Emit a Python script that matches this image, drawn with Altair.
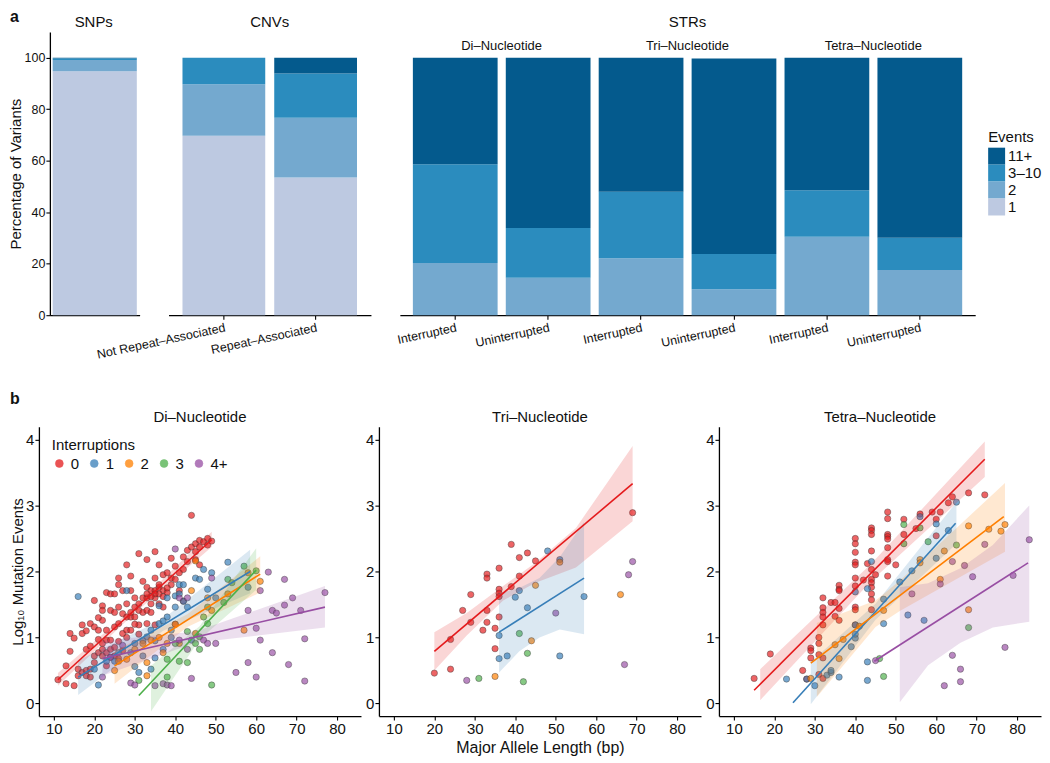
import altair as alt
import pandas as pd

FONT = "Liberation Sans"

# ---------------- Panel a: stacked bars ----------------
BAR_KEYS = ["SNP|", "CNV|Not Repeat–Associated", "CNV|Repeat–Associated",
            "Di|Interrupted", "Di|Uninterrupted", "Tri|Interrupted",
            "Tri|Uninterrupted", "Tetra|Interrupted", "Tetra|Uninterrupted"]
BAR_PANEL = ["SNPs", "CNVs", "CNVs", "STRs", "STRs", "STRs", "STRs", "STRs", "STRs"]
PCT_1 = [94.8, 69.7, 53.5, 0, 0, 0, 0, 0, 0]
PCT_2 = [4.3, 20.0, 23.2, 20.3, 14.5, 22.1, 10.1, 30.5, 17.6]
PCT_3_10 = [0.7, 10.3, 17.2, 38.3, 19.4, 25.9, 13.7, 18.0, 12.5]
PCT_11 = [0.2, 0.0, 6.1, 41.4, 66.1, 52.0, 75.9, 51.5, 69.9]
EVENTS = ["1", "2", "3–10", "11+"]
EV_LEGEND = ["11+", "3–10", "2", "1"]
EV_COLORS = ["#045a8d", "#2b8cbe", "#74a9cf", "#bdc9e1"]
STR_SUB = ["Di–Nucleotide", "Tri–Nucleotide", "Tetra–Nucleotide"]
STR_SUB_KEY = ["Di|Interrupted", "Tri|Interrupted", "Tetra|Interrupted"]

# ---------------- Panel b: scatter ----------------
GROUPS = ["0", "1", "2", "3", "4+"]
G_COLORS = ["#E41A1C", "#377EB8", "#FF7F00", "#4DAF4A", "#984EA3"]

DI0_X = [11,13,13,14,14,15,15,16,16,17,17,17,18,18,18,19,19,19,19,20,20,20,20,21,21,21,22,22,22,22,22,22,
         23,23,23,23,23,24,24,24,24,25,25,25,25,26,26,26,26,26,27,27,27,28,28,28,28,29,29,29,29,30,30,30,
         31,31,31,31,32,32,32,33,33,33,33,33,34,34,34,35,35,35,35,35,36,36,36,36,37,37,37,38,38,39,39,39,
         40,40,41,41,42,42,43,43,44,44,45,45,46,46,47,48,48,49,45,46,36,37,38,35,34,33,24,25,26,27,28,29,
         30,31,18,21,40,42]
DI0_Y = [0.36,0.57,0.30,0.79,1.06,0.99,0.27,0.42,0.52,1.19,1.06,0.47,0.82,0.50,0.42,1.21,0.87,0.40,0.52,
         1.56,1.16,0.72,0.62,0.97,1.11,0.77,1.48,1.41,1.26,0.91,0.82,0.72,1.68,1.11,0.96,0.77,0.57,1.66,
         1.41,0.96,0.82,1.66,1.38,1.16,0.72,1.90,1.80,1.46,1.21,0.94,1.71,1.36,1.06,2.10,1.51,1.31,1.11,
         1.93,1.71,1.31,1.11,1.60,1.46,1.31,2.27,1.51,1.41,1.19,1.85,1.60,1.38,2.18,1.76,1.60,1.41,1.21,
         1.71,1.51,1.38,2.30,1.90,1.71,1.60,1.19,2.10,1.76,1.51,1.80,1.95,1.71,1.46,1.98,1.68,2.20,1.90,
         1.80,2.08,1.88,1.98,1.71,2.22,2.03,2.32,2.15,2.85,2.37,2.42,2.30,2.47,2.37,2.45,2.50,2.40,2.46,
         2.18,2.10,1.66,1.62,1.75,1.66,1.62,1.66,0.70,0.85,0.68,0.80,1.00,1.38,1.20,1.05,1.10,1.30,1.20,1.55]
DI1_X = [16,21,20,23,25,26,28,29,30,30,31,32,33,34,35,36,36,37,38,38,39,40,40,41,41,42,43,44,45,46,47,48,
         49,50,53,58,34,39,37,42,35,32]
DI1_Y = [1.62,0.28,0.52,0.64,0.64,0.77,1.71,0.77,0.91,0.56,0.47,0.72,1.01,1.11,0.69,1.21,1.48,0.82,1.60,
         1.31,1.11,1.63,1.46,1.80,1.66,1.80,1.46,0.96,1.90,1.88,2.03,1.73,1.98,1.60,2.14,1.76,0.52,1.00,
         1.25,1.55,0.95,0.95]
DI2_X = [25,26,28,30,32,33,33,34,37,38,41,44,45,48,49,53,57,58,61,45,36,40]
DI2_Y = [0.50,0.64,0.67,0.82,0.91,0.62,0.42,0.96,0.77,0.91,0.91,1.71,2.16,1.60,1.41,1.66,1.11,1.98,1.85,
         1.06,1.00,1.20]
DI3_X = [31,38,38,40,41,43,43,45,46,47,48,49,52,53,54,57,60,48,46]
DI3_Y = [0.35,0.40,0.67,0.91,0.64,0.62,1.09,0.91,1.01,1.31,1.46,0.28,1.53,1.88,1.83,2.08,2.01,1.21,0.82]
DI4_X = [22,29,30,35,37,38,39,40,41,43,44,47,48,49,50,55,58,58,60,60,61,63,64,64,65,61,67,67,68,69,71,
         72,72,77,43,41,24,27]
DI4_Y = [0.40,0.31,0.28,0.27,0.30,0.28,0.27,2.34,1.60,1.60,0.38,0.96,0.91,1.90,0.91,0.47,0.62,1.41,0.40,
         1.14,1.71,1.99,0.77,1.41,1.37,0.96,1.88,1.49,0.59,1.60,1.41,0.98,0.34,1.68,0.82,0.96,0.70,0.88]

TRI0_X = [20,24,24,27,29,29,32,33,33,33,33,35,35,36,36,36,36,36,39,39,41,41,43,45,69]
TRI0_Y = [0.46,0.52,0.97,1.41,1.65,1.23,1.11,1.96,1.90,1.41,1.23,1.14,0.83,2.05,1.73,1.67,1.62,1.31,
          2.41,1.77,2.21,1.93,2.28,2.16,2.89]
TRI1_X = [36,36,38,40,41,43,48,51,51,57]
TRI1_Y = [1.03,0.68,0.72,1.61,1.71,1.45,2.31,2.18,0.72,1.62]
TRI2_X = [35,44,45,51,66]
TRI2_Y = [0.41,0.95,1.79,2.14,1.65]
TRI3_X = [31,41,42,43]
TRI3_Y = [0.38,1.06,0.33,0.76]
TRI4_X = [28,50,67,68,69]
TRI4_Y = [0.35,1.37,0.59,1.95,2.15]

TET0_X = [15,19,27,28,29,29,29,31,31,31,31,32,32,32,32,32,32,32,34,35,35,36,36,36,36,36,40,40,40,40,40,
          40,40,40,40,40,42,43,44,44,44,44,44,44,44,44,44,44,44,45,48,48,48,48,48,48,48,48,48,50,52,52,
          55,56,59,60,60,61,63,64,68,72]
TET0_Y = [0.38,0.75,0.50,0.37,0.84,0.80,0.69,1.00,0.91,0.74,0.44,1.60,1.45,1.38,1.31,1.19,0.69,0.38,1.53,
          1.53,1.32,1.79,1.73,1.71,1.44,1.26,2.50,2.42,2.29,2.14,2.10,1.90,1.78,1.46,1.42,1.19,1.87,2.12,
          2.66,2.62,2.56,2.31,2.03,1.88,1.83,1.76,1.66,1.57,1.42,1.95,2.90,2.80,2.56,2.53,2.49,2.36,2.18,
          2.15,1.93,2.10,2.79,2.56,2.65,2.87,2.90,2.79,2.54,2.90,3.04,3.13,3.19,3.16]
TET1_X = [23,28,30,33,34,34,36,39,40,40,40,40,43,43,43,44,47,47,51,53,54,56,57,60,60,63,65]
TET1_Y = [0.37,0.37,0.27,0.43,0.47,0.50,0.40,0.86,0.99,1.05,1.19,1.69,1.74,0.63,0.35,2.15,1.58,1.21,1.84,
          1.34,2.01,2.83,1.26,2.72,2.20,2.62,3.05]
TET2_X = [29,35,36,37,41,47,56,56,61,62,68,68,73,76,77]
TET2_Y = [0.38,0.89,0.68,0.97,1.17,1.41,2.18,2.13,1.88,2.31,2.69,1.42,2.64,2.61,2.71]
TET3_X = [46,47,52,52,56,58,65,68]
TET3_Y = [0.68,0.41,2.71,2.42,2.66,2.45,2.40,1.15]
TET4_X = [45,54,61,62,64,64,66,66,67,69,72,77,79,83]
TET4_Y = [0.65,1.66,1.81,0.27,2.15,0.73,0.52,0.33,2.09,1.92,2.41,0.85,1.94,2.48]

# fitted lines (end points)
DI_LINE_G = ["0", "0", "1", "1", "2", "2", "3", "3", "4+", "4+"]
DI_LINE_X = [11, 49, 16, 58.5, 25, 61, 31, 60, 22, 77]
DI_LINE_Y = [0.36, 2.48, 0.40, 2.00, 0.57, 1.96, 0.12, 2.02, 0.68, 1.46]
TRI_LINE_G = ["0", "0", "1", "1"]
TRI_LINE_X = [20, 69, 36, 57]
TRI_LINE_Y = [0.79, 3.33, 1.08, 1.90]
TET_LINE_G = ["0", "0", "1", "1", "2", "2", "4+", "4+"]
TET_LINE_X = [15, 72, 24.6, 64.8, 29, 76.7, 44.7, 82.7]
TET_LINE_Y = [0.20, 3.70, 0.01, 2.73, 0.61, 2.83, 0.64, 2.13]

# confidence bands (x, lower, upper)
DI_BAND_G = ["0", "0", "0", "1", "1", "1", "2", "2", "2", "3", "3", "3", "4+", "4+", "4+"]
DI_BAND_X = [11, 30, 49, 16, 37, 58.5, 25, 43, 61, 34, 46, 60, 22, 45, 77]
DI_BAND_LO = [0.27, 1.37, 2.37, 0.13, 1.10, 1.67, 0.30, 1.16, 1.68, -0.12, 0.97, 1.72, 0.42, 0.92, 1.15]
DI_BAND_HI = [0.46, 1.47, 2.60, 0.65, 1.28, 2.33, 0.80, 1.35, 2.23, 0.57, 1.17, 2.35, 0.95, 1.09, 1.78]
TRI_BAND_G = ["0"] * 6 + ["1"] * 5
TRI_BAND_X = [20, 28, 37, 45, 55, 69, 36, 41, 46, 51, 57]
TRI_BAND_LO = [0.50, 1.03, 1.56, 1.83, 2.06, 2.76, 0.47, 0.79, 1.00, 1.12, 1.05]
TRI_BAND_HI = [1.08, 1.37, 1.78, 2.13, 2.66, 3.90, 1.67, 1.75, 1.90, 2.22, 2.75]
TET_BAND_G = ["0"] * 3 + ["1"] * 3 + ["2"] * 4 + ["4+"] * 5
TET_BAND_X = [16.5, 44, 72, 29, 45, 65, 30.5, 45, 51, 77, 51, 58, 66, 74, 83]
TET_BAND_LO = [0.05, 1.86, 3.43, -0.01, 1.27, 2.42, 0.10, 1.16, 1.40, 2.30, 0.02, 0.58, 0.92, 1.15, 1.24]
TET_BAND_HI = [0.52, 2.12, 3.97, 0.63, 1.51, 3.05, 1.22, 1.56, 1.86, 3.34, 1.76, 1.82, 2.05, 2.40, 3.00]

# ================= build panel a =================
rows = []
for i, key in enumerate(BAR_KEYS):
    for j, (ev, vals) in enumerate(zip(EVENTS, [PCT_1, PCT_2, PCT_3_10, PCT_11])):
        rows.append({"key": key, "panel": BAR_PANEL[i], "event": ev, "ord": j, "pct": vals[i]})
bar_df = pd.DataFrame(rows)

Y_DOM_A = [0, 110]
H_A = 284
W_SNP = 101
Y_OFF = -11


def label_text(txt, x, y, size=15, weight="normal", align="center", baseline="middle"):
    return alt.Chart(pd.DataFrame({"t": [txt]})).mark_text(
        align=align, baseline=baseline, fontSize=size, fontWeight=weight, color="#111").encode(
        x=alt.value(x), y=alt.value(y), text="t:N")


def bar_panel(panel, width, scale, show_y, show_ticks, legend):
    keys = [k for k, p in zip(BAR_KEYS, BAR_PANEL) if p == panel]
    d = bar_df[bar_df.panel == panel]
    if show_y:
        yax = alt.Axis(values=[0, 20, 40, 60, 80, 100], title="Percentage of Variants",
                       titleFontSize=15, titlePadding=1, labelFontSize=12.5, labelPadding=1,
                       offset=Y_OFF)
    else:
        yax = None
    xax = alt.Axis(title=None, labelExpr="split(datum.value, '|')[1]", labels=show_ticks,
                   ticks=show_ticks, labelAngle=-12, labelAlign="right", labelBaseline="top",
                   labelFontSize=12.5, labelPadding=2)
    bars = alt.Chart(d).mark_bar().encode(
        x=alt.X("key:N", sort=keys, scale=scale, axis=xax),
        y=alt.Y("pct:Q", stack="zero", scale=alt.Scale(domain=Y_DOM_A, nice=False), axis=yax),
        color=alt.Color("event:N", scale=alt.Scale(domain=EV_LEGEND, range=EV_COLORS), legend=legend),
        order=alt.Order("ord:Q", sort="ascending"),
    )
    return bars, keys


snp_bars, _ = bar_panel("SNPs", W_SNP,
                        alt.Scale(range=[-Y_OFF, W_SNP], paddingInner=0.1, paddingOuter=0.03),
                        True, False, None)
snp = alt.layer(snp_bars,
                label_text("a", -29, -23, size=16, weight="bold", align="left", baseline="top"),
                label_text("SNPs", 55, -10)).properties(width=W_SNP, height=H_A)

cnv_bars, _ = bar_panel("CNVs", 203, alt.Scale(paddingInner=0.098, paddingOuter=0.152), False, True, None)
cnv = alt.layer(cnv_bars, label_text("CNVs", 101.5, -10)).properties(width=203, height=H_A)

ev_legend = alt.Legend(title="Events", orient="none", legendX=590, legendY=98, symbolType="square",
                       symbolSize=289, symbolStrokeWidth=0, rowPadding=0, labelFontSize=15,
                       titleFontSize=15, titleFontWeight="normal", titlePadding=3, labelOffset=3,
                       symbolOpacity=1)
str_bars, str_keys = bar_panel("STRs", 577, alt.Scale(paddingInner=0.088, paddingOuter=0.14),
                               False, True, ev_legend)
sub_df = pd.DataFrame({"key": STR_SUB_KEY, "t": STR_SUB, "y": [104.6] * 3})
str_sub = alt.Chart(sub_df).mark_text(fontSize=13, baseline="middle", dx=4, color="#111").encode(
    x=alt.X("key:N", sort=str_keys, bandPosition=1),
    y=alt.Y("y:Q"),
    text="t:N")
strs = alt.layer(str_bars, str_sub, label_text("STRs", 288.5, -10)).properties(width=577, height=H_A)

row_a = alt.hconcat(snp, cnv, strs, spacing=29, bounds="flush").resolve_scale(color="independent")

# ================= build panel b =================
X_DOM_B = [6.3, 85.9]
Y_DOM_B = [-0.19, 4.19]
W_B = 323
H_B = 290


def pts_df(groups_xy):
    out = []
    for g, xs, ys in groups_xy:
        for x, y in zip(xs, ys):
            out.append({"grp": g, "x": x, "y": y})
    return pd.DataFrame(out)


def scatter_panel(name, pts, line_g, line_x, line_y, band_g, band_x, band_lo, band_hi,
                  ytitle, xtitle, legend, label_b):
    xax = alt.Axis(values=[10, 20, 30, 40, 50, 60, 70, 80], title=xtitle, titleFontSize=16,
                   titlePadding=3, labelFontSize=15, labelPadding=2, format="d")
    yax = alt.Axis(values=[0, 1, 2, 3, 4], title=ytitle, titleFontSize=15, titlePadding=0,
                   labelFontSize=15, labelPadding=1, format="d")
    xs = alt.Scale(domain=X_DOM_B, nice=False, zero=False)
    ys = alt.Scale(domain=Y_DOM_B, nice=False, zero=False)
    pts_layer = alt.Chart(pts).mark_circle(size=40, fillOpacity=0.68, stroke="#3a3a3a",
                                           strokeWidth=0.5, strokeOpacity=0.85).encode(
        x=alt.X("x:Q", scale=xs, axis=xax),
        y=alt.Y("y:Q", scale=ys, axis=yax),
        color=alt.Color("grp:N", scale=alt.Scale(domain=GROUPS, range=G_COLORS), legend=legend),
    )
    band_df = pd.DataFrame({"grp": band_g, "x": band_x, "lo": band_lo, "hi": band_hi})
    band_layer = alt.Chart(band_df).mark_area(opacity=0.18).encode(
        x=alt.X("x:Q", scale=xs),
        y=alt.Y("lo:Q", scale=ys),
        y2="hi:Q",
        fill=alt.Fill("grp:N", scale=alt.Scale(domain=GROUPS, range=G_COLORS), legend=None),
    )
    line_df = pd.DataFrame({"grp": line_g, "x": line_x, "y": line_y})
    line_layer = alt.Chart(line_df).mark_line(strokeWidth=1.6).encode(
        x=alt.X("x:Q", scale=xs),
        y=alt.Y("y:Q", scale=ys),
        stroke=alt.Stroke("grp:N", scale=alt.Scale(domain=GROUPS, range=G_COLORS), legend=None),
    )
    layers = [pts_layer, band_layer, line_layer, label_text(name, W_B / 2, -10)]
    if label_b:
        layers.append(label_text("b", -29, -36, size=16, weight="bold", align="left", baseline="top"))
    return alt.layer(*layers).properties(width=W_B, height=H_B)


int_legend = alt.Legend(title="Interruptions", orient="none", legendX=13, legendY=11,
                        direction="horizontal", columns=5, symbolSize=62, symbolStrokeColor="#444",
                        symbolStrokeWidth=0.6, symbolOpacity=0.75, labelFontSize=15, titleFontSize=15,
                        titleFontWeight="normal", titlePadding=3, labelOffset=4, columnPadding=7)

di = scatter_panel("Di–Nucleotide",
                   pts_df([("0", DI0_X, DI0_Y), ("1", DI1_X, DI1_Y), ("2", DI2_X, DI2_Y),
                           ("3", DI3_X, DI3_Y), ("4+", DI4_X, DI4_Y)]),
                   DI_LINE_G, DI_LINE_X, DI_LINE_Y, DI_BAND_G, DI_BAND_X, DI_BAND_LO, DI_BAND_HI,
                   "Log₁₀ Mutation Events", None, int_legend, True)
tri = scatter_panel("Tri–Nucleotide",
                    pts_df([("0", TRI0_X, TRI0_Y), ("1", TRI1_X, TRI1_Y), ("2", TRI2_X, TRI2_Y),
                            ("3", TRI3_X, TRI3_Y), ("4+", TRI4_X, TRI4_Y)]),
                    TRI_LINE_G, TRI_LINE_X, TRI_LINE_Y, TRI_BAND_G, TRI_BAND_X, TRI_BAND_LO, TRI_BAND_HI,
                    None, "Major Allele Length (bp)", None, False)
tet = scatter_panel("Tetra–Nucleotide",
                    pts_df([("0", TET0_X, TET0_Y), ("1", TET1_X, TET1_Y), ("2", TET2_X, TET2_Y),
                            ("3", TET3_X, TET3_Y), ("4+", TET4_X, TET4_Y)]),
                    TET_LINE_G, TET_LINE_X, TET_LINE_Y, TET_BAND_G, TET_BAND_X, TET_BAND_LO, TET_BAND_HI,
                    None, None, None, False)

row_b = alt.hconcat(di, tri, tet, spacing=18, bounds="flush").resolve_scale(
    color="independent", fill="independent", stroke="independent")

chart = alt.vconcat(row_a, row_b, spacing=30).resolve_scale(
    color="independent", fill="independent", stroke="independent"
).properties(padding=0).configure(font=FONT).configure_view(stroke=None).configure_axis(
    grid=False, domainColor="#000", domainWidth=1.3, tickColor="#000", tickWidth=1.1, tickSize=4,
    labelColor="#111", titleColor="#111", titleFontWeight="normal", labelFont=FONT, titleFont=FONT
).configure_legend(labelFont=FONT, titleFont=FONT, labelColor="#111", titleColor="#111")

chart.save("out.html", embed_options={"renderer": "svg", "actions": False})
